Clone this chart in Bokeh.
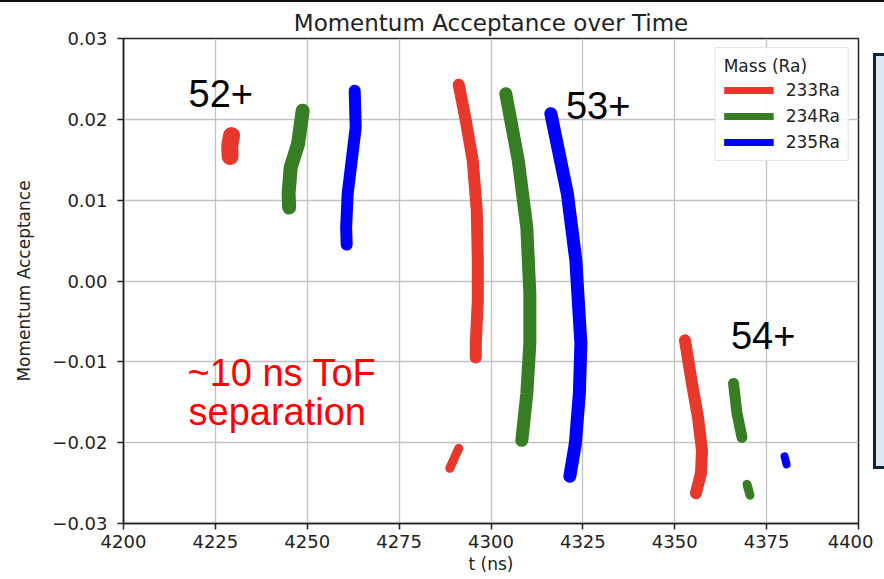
from bokeh.plotting import figure
from bokeh.layouts import row, column
from bokeh.models import (Legend, LegendItem, Label, FixedTicker, Div,
                          CustomJSTickFormatter)
from bokeh.embed import file_html
from bokeh.resources import INLINE

# ---------------- data ----------------
isotopes = ["233Ra", "234Ra", "235Ra"]
x_ticks = [4200, 4225, 4250, 4275, 4300, 4325, 4350, 4375, 4400]
y_ticks = [-0.03, -0.02, -0.01, 0.0, 0.01, 0.02, 0.03]

# 52+ charge state
t52_233 = [4229.4, 4228.9, 4229.0]
d52_233 = [0.0180, 0.0167, 0.0154]
t52_234 = [4248.75, 4247.52, 4245.48, 4244.93, 4245.07]
d52_234 = [0.02107, 0.01699, 0.01402, 0.01081, 0.00908]
t52_235 = [4262.91, 4263.18, 4262.09, 4261.00, 4260.59, 4260.73]
d52_235 = [0.02354, 0.01897, 0.01489, 0.01081, 0.00661, 0.00451]

# 53+ charge state
t53_233 = [4291.23, 4293.14, 4295.04, 4296.13, 4296.41, 4296.41, 4295.86, 4295.86]
d53_233 = [0.02428, 0.01983, 0.01489, 0.00871, 0.00253, -0.00241, -0.00772, -0.00945]
t53_233b = [4291.23, 4289.87, 4288.78]
d53_233b = [-0.02070, -0.02206, -0.02317]
t53_234 = [4304.03, 4307.43, 4309.75, 4310.57, 4310.57, 4309.75, 4308.39]
d53_234 = [0.02317, 0.01489, 0.00661, -0.00154, -0.00772, -0.01390, -0.01971]
t53_235 = [4316.29, 4320.78, 4323.09, 4324.46, 4324.05, 4322.96, 4321.46]
d53_235 = [0.02070, 0.01081, 0.00253, -0.00772, -0.01390, -0.02008, -0.02416]

# 54+ charge state
t54_233 = [4352.78, 4354.68, 4356.32, 4357.41, 4357.14, 4355.77]
d54_233 = [-0.00734, -0.01266, -0.01687, -0.02094, -0.02379, -0.02626]
t54_234 = [4365.99, 4366.94, 4368.30]
d54_234 = [-0.01267, -0.01637, -0.01934]
t54_234b = [4369.66, 4370.48]
d54_234b = [-0.02515, -0.02650]
t54_235 = [4379.87, 4380.42]
d54_235 = [-0.02169, -0.02268]

# ---------------- styling ----------------
RED, GREEN, BLUE = "#e8382b", "#367d24", "#0000ff"
TXT = "#222222"
FONT = "DejaVu Sans"

p = figure(frame_width=735, frame_height=485,
           x_range=(4200, 4400), y_range=(-0.03, 0.03),
           output_backend="svg", toolbar_location=None,
           min_border_left=123, min_border_right=15,
           min_border_top=36, min_border_bottom=56,
           title="Momentum Acceptance over Time")

p.title.align = "center"
p.title.text_font = FONT
p.title.text_font_size = "23px"
p.title.text_font_style = "normal"
p.title.text_color = TXT
p.title.standoff = 6

p.background_fill_color = "white"
p.border_fill_color = "white"
p.outline_line_color = TXT
p.outline_line_width = 1.5

p.xaxis.ticker = FixedTicker(ticks=x_ticks)
p.yaxis.ticker = FixedTicker(ticks=y_ticks)
p.yaxis.formatter = CustomJSTickFormatter(
    code="return (tick < -1e-9 ? '\\u2212' : '') + Math.abs(tick).toFixed(2);")

for ax in (p.xaxis, p.yaxis):
    ax.major_label_text_font = FONT
    ax.major_label_text_font_size = "18px"
    ax.major_label_text_color = TXT
    ax.axis_label_text_font = FONT
    ax.axis_label_text_font_size = "17px"
    ax.axis_label_text_font_style = "normal"
    ax.axis_label_text_color = TXT
    ax.axis_line_color = TXT
    ax.axis_line_width = 1.5
    ax.major_tick_line_color = TXT
    ax.major_tick_line_width = 1.5
    ax.major_tick_out = 6
    ax.major_tick_in = 0
    ax.minor_tick_line_color = None

p.xaxis.axis_label = "t (ns)"
p.yaxis.axis_label = "Momentum Acceptance"
p.xaxis.major_label_standoff = 5
p.xaxis.axis_label_standoff = 3
p.yaxis.major_label_standoff = 10
p.yaxis.axis_label_standoff = 15

p.grid.grid_line_color = "#c2c2c2"
p.grid.grid_line_width = 1.3

# ---------------- bands ----------------
bands = [
    (t52_233, d52_233, RED, 17), (t52_234, d52_234, GREEN, 14), (t52_235, d52_235, BLUE, 12),
    (t53_233, d53_233, RED, 12), (t53_233b, d53_233b, RED, 9),
    (t53_234, d53_234, GREEN, 13), (t53_235, d53_235, BLUE, 13),
    (t54_233, d54_233, RED, 12), (t54_234, d54_234, GREEN, 11),
    (t54_234b, d54_234b, GREEN, 9), (t54_235, d54_235, BLUE, 8),
]
for t, d, c, w in bands:
    p.line(t, d, line_color=c, line_width=w, line_cap="round", line_join="round")

# legend (proxy renderers, kept outside the visible range)
proxies = [p.line([4500, 4501], [0.05, 0.05], line_color=c, line_width=7)
           for c in (RED, GREEN, BLUE)]
legend = Legend(items=[LegendItem(label=lab, renderers=[r]) for lab, r in zip(isotopes, proxies)],
                location="top_right", title="Mass (Ra)")
legend.title_text_font = FONT
legend.title_text_font_size = "17px"
legend.title_text_font_style = "normal"
legend.title_text_color = TXT
legend.title_standoff = 4
legend.label_text_font = FONT
legend.label_text_font_size = "17px"
legend.label_text_color = TXT
legend.glyph_width = 50
legend.glyph_height = 20
legend.label_height = 20
legend.label_standoff = 12
legend.spacing = 6
legend.padding = 8
legend.margin = 9
legend.border_line_color = "#cccccc"
legend.border_line_width = 1.5
legend.background_fill_color = "white"
legend.background_fill_alpha = 0.85
p.add_layout(legend)

# annotations
for x, y, txt, col in [(4217.7, 0.02317, "52+", "black"),
                       (4320.4, 0.02169, "53+", "black"),
                       (4365.3, -0.00673, "54+", "black"),
                       (4217.4, -0.01143, "~10 ns ToF", "#ff0000"),
                       (4217.7, -0.01625, "separation", "#ff0000")]:
    p.add_layout(Label(x=x, y=y, text=txt, text_color=col, text_font="Liberation Sans",
                       text_font_size="38px", text_baseline="alphabetic", text_align="left"))

# right-hand framed box (partly outside the picture) and top border line
side = Div(text='<div style="position:absolute;left:0;top:51px;width:40px;height:416px;'
                'box-sizing:border-box;background:#dce8f4;border:3px solid #0d2538;"></div>',
           width=11, height=577, margin=0,
           styles={"overflow": "hidden", "position": "relative", "background-color": "white"})
topline = Div(text="", width=884, height=2, margin=0,
              styles={"background-color": "#111111"})
layout = column(topline, row(p, side, spacing=0), spacing=0)

open("out.html", "w").write(file_html(layout, INLINE))
